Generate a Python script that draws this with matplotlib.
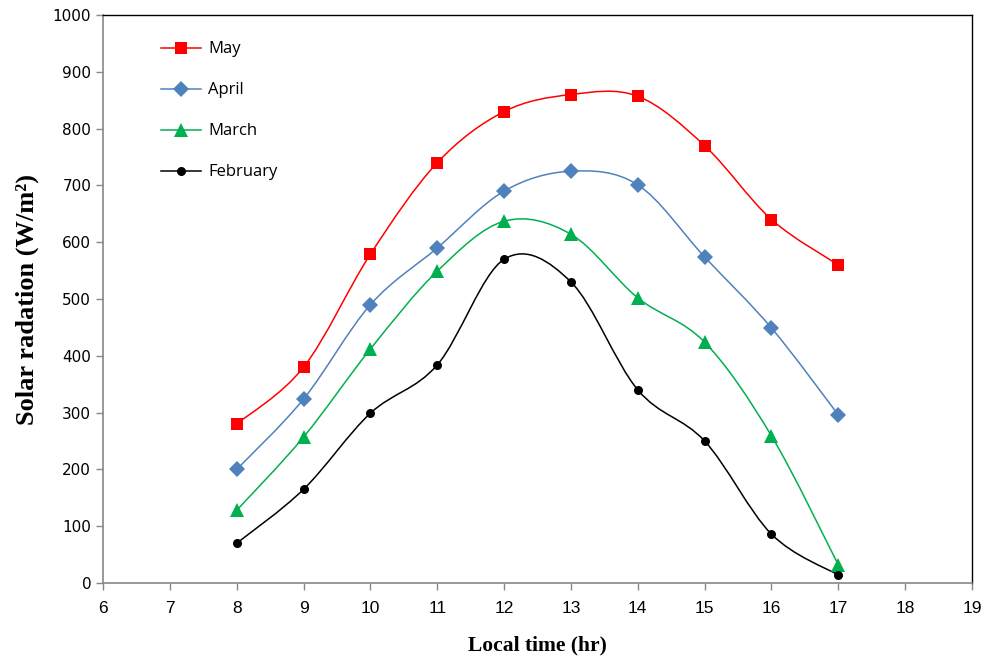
import matplotlib
matplotlib.use("Agg")
import matplotlib.pyplot as plt
from matplotlib.path import Path
from matplotlib.patches import PathPatch
from matplotlib.lines import Line2D

hours = [8, 9, 10, 11, 12, 13, 14, 15, 16, 17]
may = [280, 380, 579, 740, 830, 860, 857, 770, 640, 560]
april = [200, 324, 490, 590, 690, 725, 701, 574, 449, 296]
march = [128, 257, 412, 549, 637, 614, 502, 424, 259, 32]
february = [70, 165, 299, 384, 570, 530, 340, 250, 86, 14]

series = [
    ("May", may, "#FF0000", "s", 9),
    ("April", april, "#4F81BD", "D", 8),
    ("March", march, "#00B050", "^", 9.5),
    ("February", february, "#000000", "o", 6.5),
]


def smooth_path(xs, ys):
    # Excel-style smoothed line: cubic Bezier segments with Catmull-Rom handles
    pts = list(zip(xs, ys))
    verts = [pts[0]]
    codes = [Path.MOVETO]
    n = len(pts)
    for i in range(n - 1):
        p0 = pts[i - 1] if i > 0 else pts[i]
        p1 = pts[i]
        p2 = pts[i + 1]
        p3 = pts[i + 2] if i + 2 < n else pts[i + 1]
        c1 = (p1[0] + (p2[0] - p0[0]) / 6, p1[1] + (p2[1] - p0[1]) / 6)
        c2 = (p2[0] - (p3[0] - p1[0]) / 6, p2[1] - (p3[1] - p1[1]) / 6)
        verts += [c1, c2, p2]
        codes += [Path.CURVE4] * 3
    return Path(verts, codes)


fig = plt.figure(figsize=(9.88, 6.65), dpi=100)
ax = fig.add_axes([0.1043, 0.1233, 0.8795, 0.8541])

handles = []
for label, vals, color, marker, ms in series:
    ax.add_patch(PathPatch(smooth_path(hours, vals), facecolor="none",
                           edgecolor=color, lw=1.1, zorder=2))
    ax.plot(hours, vals, linestyle="none", marker=marker, color=color,
            markersize=ms, markeredgewidth=0, zorder=3)
    handles.append(Line2D([], [], color=color, lw=1.1, marker=marker,
                          markersize=ms, markeredgewidth=0, label=label))

ax.set_xlim(6, 19)
ax.set_ylim(0, 1000)
ax.set_xticks(range(6, 20))
ax.set_yticks(range(0, 1001, 100))

for side in ("top", "right"):
    ax.spines[side].set_color("black")
    ax.spines[side].set_linewidth(1.0)
for side in ("left", "bottom"):
    ax.spines[side].set_color("#888888")
    ax.spines[side].set_linewidth(1.2)

ax.tick_params(axis="both", direction="out", color="#888888", length=5, width=1)
ax.tick_params(axis="x", pad=8)
for t in ax.get_xticklabels():
    t.set_fontfamily(["Liberation Sans Narrow", "Liberation Sans"])
    t.set_fontsize(12.5)
for t in ax.get_yticklabels():
    t.set_fontfamily("DejaVu Sans")
    t.set_fontsize(11)

ax.set_xlabel("Local time (hr)", fontfamily="Liberation Serif",
              fontweight="bold", fontsize=15.5, labelpad=14)
ax.set_ylabel("Solar radation (W/m²)", fontfamily="Liberation Serif",
              fontweight="bold", fontsize=19, labelpad=10)

leg = ax.legend(handles=handles, loc="upper left", bbox_to_anchor=(0.05, 0.98),
                frameon=False, handlelength=2.4, handletextpad=0.4,
                labelspacing=1.5, prop={"family": "Open Sans", "size": 12})

fig.savefig("out.png", dpi=100)
